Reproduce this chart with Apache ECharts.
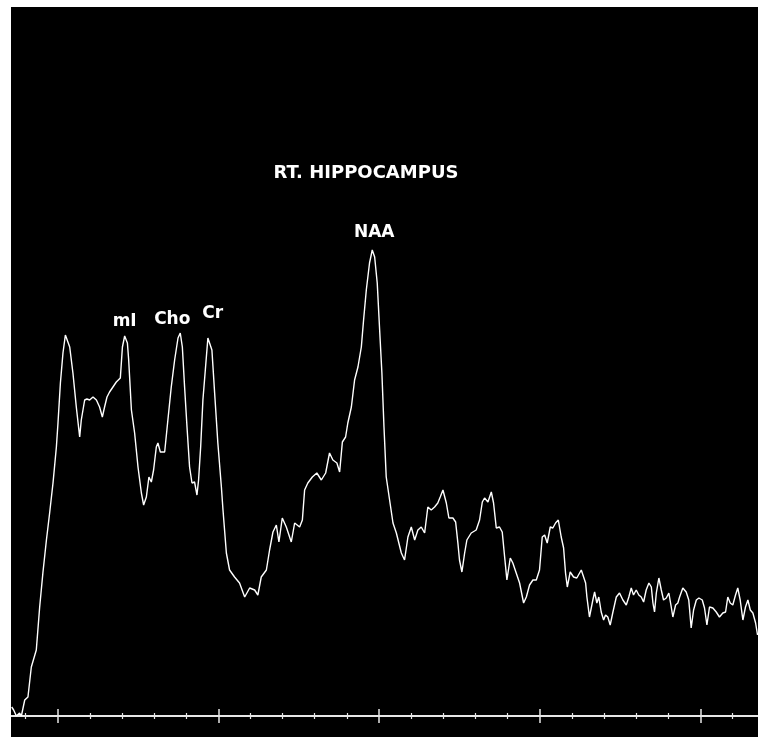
<!DOCTYPE html>
<html>
<head>
<meta charset="utf-8">
<script src="https://cdn.jsdelivr.net/npm/echarts@6/dist/echarts.min.js"></script>
<style>
  html, body { margin: 0; padding: 0; background: #ffffff; width: 758px; height: 737px; overflow: hidden; }
  #frame { position: absolute; left: 11px; top: 7px; width: 747px; height: 730px; overflow: hidden; background: #000; }
  #chart { position: absolute; left: -114px; top: 0px; width: 964px; height: 730px; }
</style>
</head>
<body>
<div id="frame"><div id="chart"></div></div>
<script>
// Chemical shift (ppm) of each sampled point of the spectrum
const ppm = [4.286,4.274,4.257,4.237,4.226,4.205,4.185,4.164,4.154,4.133,4.112,4.092,4.070,4.050,4.029,4.008,3.998,3.983,3.967,3.952,3.940,3.925,3.905,3.884,3.863,3.853,3.832,3.818,3.801,3.780,3.759,3.739,3.722,3.708,3.693,3.677,3.656,3.635,3.610,3.597,3.583,3.566,3.558,3.541,3.521,3.500,3.479,3.465,3.448,3.432,3.417,3.403,3.386,3.376,3.361,3.334,3.314,3.293,3.272,3.251,3.237,3.224,3.210,3.195,3.179,3.164,3.148,3.133,3.123,3.110,3.096,3.081,3.065,3.054,3.040,3.023,3.003,2.981,2.971,2.950,2.930,2.899,2.868,2.836,2.805,2.774,2.754,2.733,2.701,2.681,2.660,2.639,2.623,2.602,2.577,2.546,2.525,2.494,2.477,2.463,2.443,2.415,2.387,2.359,2.332,2.308,2.287,2.262,2.245,2.228,2.208,2.194,2.172,2.152,2.131,2.110,2.096,2.079,2.059,2.042,2.027,2.011,1.996,1.982,1.969,1.955,1.934,1.913,1.892,1.861,1.841,1.820,1.799,1.778,1.758,1.737,1.716,1.696,1.675,1.654,1.634,1.619,1.602,1.581,1.565,1.540,1.523,1.509,1.499,1.484,1.467,1.453,1.426,1.395,1.374,1.357,1.343,1.322,1.301,1.287,1.270,1.250,1.233,1.218,1.204,1.183,1.167,1.146,1.125,1.100,1.083,1.063,1.042,1.021,1.001,0.984,0.969,0.953,0.934,0.918,0.901,0.884,0.866,0.851,0.839,0.828,0.810,0.789,0.769,0.741,0.714,0.706,0.690,0.669,0.658,0.644,0.632,0.617,0.602,0.590,0.576,0.561,0.544,0.523,0.503,0.482,0.461,0.445,0.430,0.416,0.399,0.383,0.368,0.353,0.337,0.320,0.305,0.295,0.285,0.274,0.258,0.243,0.229,0.212,0.196,0.181,0.171,0.154,0.140,0.129,0.109,0.088,0.072,0.057,0.042,0.025,0.009,-0.012,-0.026,-0.041,-0.057,-0.078,-0.099,-0.119,-0.140,-0.157,-0.171,-0.186,-0.202,-0.219,-0.233,-0.248,-0.265,-0.281,-0.296,-0.311,-0.327,-0.344,-0.356];

// Signal intensity (arbitrary units) at each point
const intensity = [9,6,0,3,0,16,19,49,51,66,109,143,176,203,233,269,293,333,363,381,383,369,343,309,279,296,316,317,316,319,316,309,299,309,319,324,329,334,338,369,380,373,356,306,283,249,223,211,219,239,234,246,269,273,264,264,296,329,356,378,383,369,329,289,249,233,234,221,236,269,316,346,378,379,366,323,273,229,206,163,146,139,133,119,128,126,121,139,146,166,184,191,174,198,189,174,193,189,196,226,233,239,243,236,243,263,256,253,244,274,279,293,309,336,349,369,396,426,453,466,459,433,386,343,289,239,216,193,183,163,156,179,189,176,186,189,183,209,206,209,213,219,226,213,198,198,194,173,156,144,163,176,183,186,196,214,218,214,224,213,188,189,184,159,136,158,153,143,133,113,119,131,136,136,146,179,181,173,189,188,193,196,179,168,143,129,144,139,138,146,133,119,99,116,124,113,119,104,96,101,99,91,104,119,123,116,111,119,128,121,126,121,119,114,126,133,129,113,104,123,138,126,116,118,123,109,99,111,113,119,128,124,116,88,106,116,118,116,108,91,109,108,104,99,103,104,119,113,111,121,128,116,96,109,116,106,103,93,81];

// Labelled metabolite peaks
const peakNames = ['mI', 'Cho', 'Cr', 'NAA'];
const peakPpm = [3.583, 3.237, 3.054, 2.042];
const peakIntensity = [380, 383, 379, 466];

const titleText = 'RT. HIPPOCAMPUS';

// label placement relative to each peak (style, not data)
const labelOffset = { 'mI': [0, -14], 'Cho': [-8, -13], 'Cr': [3, -23], 'NAA': [2, -17] };

const n = Math.min(ppm.length, intensity.length);
const spectrum = [];
for (let i = 0; i < n; i++) spectrum.push([ppm[i], intensity[i]]);

const peakData = peakNames.map((name, i) => ({
  name: name,
  value: [peakPpm[i], peakIntensity[i]],
  label: { offset: labelOffset[name] }
}));

const labelFont = {
  color: '#ffffff', fontFamily: 'DejaVu Sans', fontWeight: 'bold', fontSize: 17,
  textBorderWidth: 0, textBorderColor: 'transparent', textShadowBlur: 0, opacity: 1
};

function xAxisBase(inside, showLine) {
  return {
    type: 'value',
    gridIndex: 0,
    position: 'bottom',
    min: -1,
    max: 5,
    interval: 1,
    inverse: true,
    axisLine: { show: showLine, onZero: false, lineStyle: { color: '#e6e6e6', width: 2 } },
    axisTick: { show: true, inside: inside, length: 7, lineStyle: { color: '#e6e6e6', width: 1.5 } },
    minorTick: { show: true, splitNumber: 5, length: 3, lineStyle: { color: '#e6e6e6', width: 1.2 } },
    axisLabel: { show: false },
    splitLine: { show: false },
    minorSplitLine: { show: false }
  };
}

const chart = echarts.init(document.getElementById('chart'), null, { renderer: 'canvas' });
chart.setOption({
  backgroundColor: '#000000',
  animation: false,
  title: {
    text: titleText,
    left: 464,
    top: 152,
    textAlign: 'center',
    textStyle: { color: '#ffffff', fontFamily: 'DejaVu Sans', fontWeight: 'bold', fontSize: 18 }
  },
  grid: { left: 0, right: 0, top: 0, bottom: 21, containLabel: false },
  xAxis: [xAxisBase(false, true), xAxisBase(true, false)],
  yAxis: { type: 'value', min: 0, max: 709, show: false },
  series: [
    {
      type: 'line',
      xAxisIndex: 0,
      data: spectrum,
      showSymbol: false,
      symbol: 'none',
      lineStyle: { color: '#ffffff', width: 1.4 },
      clip: true
    },
    {
      type: 'scatter',
      xAxisIndex: 0,
      data: peakData,
      symbol: 'circle',
      symbolSize: 0,
      itemStyle: { color: '#000000', opacity: 1 },
      label: Object.assign({ show: true, position: 'inside', formatter: '{b}' }, labelFont),
      silent: true
    }
  ]
});
</script>
</body>
</html>
